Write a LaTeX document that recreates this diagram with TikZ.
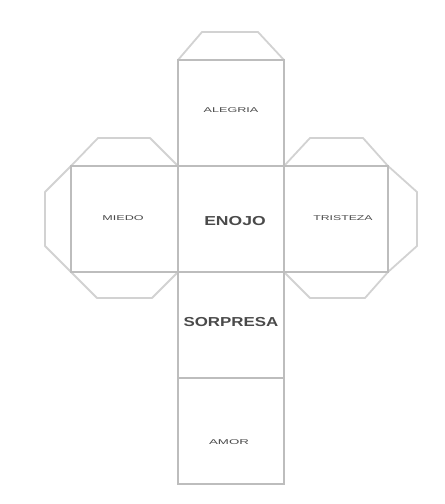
\documentclass[tikz,border=0pt]{standalone}
\usepackage{fontspec}
\usepackage{graphicx}
\setmainfont{Liberation Sans}
\definecolor{edge}{HTML}{BDBDBD}
\definecolor{flap}{HTML}{D2D2D2}
\definecolor{ink}{HTML}{4A4A4A}
\tikzset{
  faceline/.style={draw=edge, line width=2.1pt, line join=miter},
  flapline/.style={draw=flap, line width=1.8pt, line join=round},
  small/.style={text=ink, inner sep=0pt, font=\fontsize{7}{8}\selectfont},
  big/.style={text=ink, inner sep=0pt, font=\fontsize{13}{15}\selectfont\bfseries},
}
\begin{document}
\begin{tikzpicture}[x=1pt,y=-1pt]
\useasboundingbox (0,0) rectangle (445,504);
% flaps
\draw[flapline] (178,60) -- (202,32) -- (258,32) -- (284,60);
\draw[flapline] (71,166) -- (98,138) -- (150,138) -- (178,166);
\draw[flapline] (71,166) -- (45,192) -- (45,246) -- (71,272);
\draw[flapline] (71,272) -- (97,298) -- (152,298) -- (178,272);
\draw[flapline] (284,166) -- (310,138) -- (363,138) -- (388,166);
\draw[flapline] (388,166) -- (417,192) -- (417,246) -- (388,272);
\draw[flapline] (284,272) -- (310,298) -- (365,298) -- (388,272);
% faces
\draw[faceline] (178,60) rectangle (284,484);
\draw[faceline] (71,166) rectangle (388,272);
\draw[faceline] (178,166) -- (178,272);
\draw[faceline] (284,166) -- (284,272);
\draw[faceline] (178,378) -- (284,378);
% labels
\node[small] (alegria) at (231,110) {\scalebox{1.8}[1]{ALEGRIA}};
\node[small] (miedo) at (123,218) {\scalebox{1.8}[1]{MIEDO}};
\node[big] (enojo) at (235,221) {\scalebox{1.35}[1]{ENOJO}};
\node[small] (tristeza) at (343,218) {\scalebox{1.75}[1]{TRISTEZA}};
\node[big] (sorpresa) at (231,322) {\scalebox{1.3}[1]{SORPRESA}};
\node[small] (amor) at (229,442) {\scalebox{1.9}[1]{AMOR}};
\end{tikzpicture}
\end{document}
